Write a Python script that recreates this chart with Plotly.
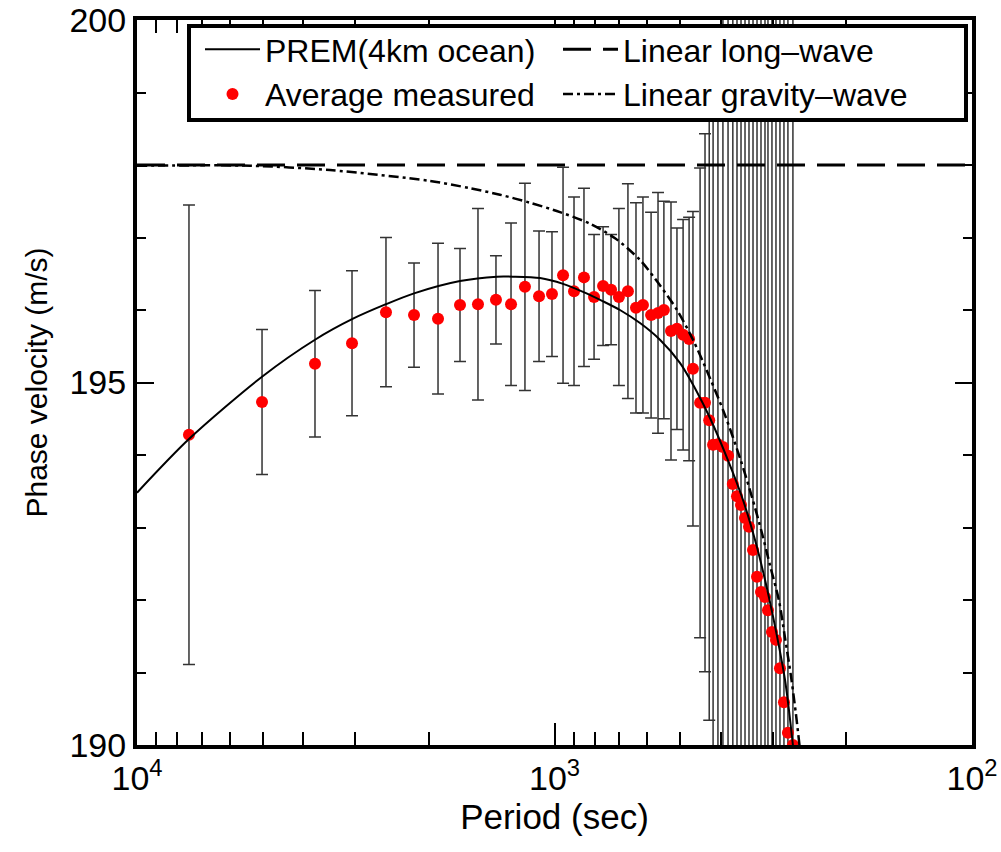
import plotly.graph_objects as go

# ---- data ----
period_avg = [7508, 5018, 3747, 3055, 2533, 2170, 1901, 1684, 1525, 1381, 1271, 1177, 1089, 1014,
              954, 898, 850, 804, 765, 732, 701, 667, 638, 614, 587, 565, 547, 526, 509, 492, 476,
              466, 448, 436, 426, 417, 406, 395, 384, 374, 365.5, 357.5, 349.7, 342.1, 334.6,
              327.3, 320.2, 313.2, 308.1, 301.4, 294.8, 288.4, 282.1, 276.0, 268.5]
vel_avg = [194.28, 194.73, 195.26, 195.54, 195.97, 195.93, 195.88, 196.07, 196.08, 196.14, 196.08,
           196.32, 196.19, 196.22, 196.48, 196.26, 196.45, 196.18, 196.33, 196.28, 196.18, 196.26,
           196.03, 196.07, 195.93, 195.96, 196.00, 195.71, 195.74, 195.66, 195.60, 195.19, 194.72,
           194.72, 194.48, 194.14, 194.15, 194.11, 193.99, 193.60, 193.43, 193.31, 193.13, 193.01,
           192.69, 192.32, 192.11, 192.04, 191.86, 191.56, 191.45, 191.06, 190.59, 190.17, 190.00]
err_avg = [3.17, 1.00, 1.01, 1.00, 1.03, 0.72, 1.04, 0.78, 1.32, 0.61, 1.12, 1.43, 0.90, 0.86,
           1.49, 1.30, 1.23, 0.86, 0.82, 0.76, 1.22, 1.48, 1.45, 1.49, 1.42, 1.66, 1.50, 1.78,
           1.39, 1.59, 1.68, 2.17, 3.24, 3.71, 4.14, 5.0, 5.5, 6.1, 6.8, 7.2, 7.9, 8.4, 9.0, 9.6,
           10.3, 11.0, 11.8, 12.5, 13.3, 14.1, 15.0, 16.0, 17.0, 18.2, 19.5]

period_prem = [10000, 7508, 5018, 3747, 3038, 2533, 2170, 1684, 1374, 1257, 1083, 954, 854.5, 765,
               697, 624, 559, 500.7, 455.8, 424.2, 386.2, 353.6, 331.0, 313.2, 296.4, 280.5,
               274.4, 268.5, 264.1]
vel_prem = [193.48, 194.22, 195.08, 195.59, 195.88, 196.08, 196.23, 196.40, 196.46, 196.46, 196.44,
            196.36, 196.25, 196.12, 196.00, 195.82, 195.59, 195.27, 194.87, 194.51, 193.96, 193.38,
            192.83, 192.28, 191.64, 190.90, 190.48, 190.00, 189.66]

period_grav = [10000, 5362, 3449, 1987, 1594, 1351, 1145, 970, 822, 716, 624, 559, 508.8, 465.9,
               424.2, 390.5, 359.6, 336.5, 318.4, 304.7, 289.9, 280.5, 271.4, 264.1, 258.2, 255.4]
vel_grav = [197.99, 197.99, 197.93, 197.78, 197.68, 197.59, 197.48, 197.35, 197.19, 196.99, 196.69,
            196.34, 196.00, 195.59, 195.06, 194.55, 193.96, 193.42, 192.92, 192.48, 191.99, 191.48,
            190.95, 190.43, 189.93, 189.66]

period_long = [10000, 100]
vel_long = [198.0, 198.0]

x_tickvals = [10000, 1000, 100]
x_ticktext = ["10<sup>4</sup>", "10<sup>3</sup>", "10<sup>2</sup>"]
x_minor = [9000, 8000, 7000, 6000, 5000, 4000, 3000, 2000, 900, 800, 700, 600, 500, 400, 300, 200]

FONT = "Liberation Sans, Arial, Helvetica, sans-serif"

fig = go.Figure()

fig.add_trace(go.Scatter(
    x=period_avg, y=vel_avg, mode="markers", name="Average measured",
    marker=dict(color="#ff0000", size=12),
    error_y=dict(type="data", array=err_avg, visible=True, color="#333333",
                 thickness=1.5, width=6),
    legendrank=3))

fig.add_trace(go.Scatter(
    x=period_prem, y=vel_prem, mode="lines", name="PREM(4km ocean)",
    line=dict(color="black", width=2, shape="spline", smoothing=0.8), legendrank=1))

fig.add_trace(go.Scatter(
    x=period_long, y=vel_long, mode="lines", name="Linear long\u2013wave",
    line=dict(color="black", width=3, dash="28px,12px"), legendrank=2))

fig.add_trace(go.Scatter(
    x=period_grav, y=vel_grav, mode="lines", name="Linear gravity\u2013wave",
    line=dict(color="black", width=2.5, dash="10px,4px,3px,4px", shape="spline", smoothing=0.8),
    legendrank=4))

# plot area: x 137..972, y 20..745 (px)
def px_x(p):
    return (p - 137) / 835.0

def px_y(p):
    return 1 - (p - 20) / 725.0

fig.update_layout(
    width=1001, height=852,
    margin=dict(l=137, r=29, t=20, b=107, autoexpand=False),
    paper_bgcolor="white", plot_bgcolor="white",
    font=dict(family=FONT, size=33, color="black"),
    showlegend=True,
    legend=dict(orientation="h", x=px_x(200), xanchor="left", y=px_y(22), yanchor="top",
                bgcolor="rgba(0,0,0,0)", borderwidth=0,
                entrywidth=288, entrywidthmode="pixels", itemwidth=55,
                font=dict(family=FONT, size=32, color="black"),
                traceorder="normal", tracegroupgap=0),
    shapes=[dict(type="rect", xref="paper", yref="paper",
                 x0=px_x(189), x1=px_x(966), y0=px_y(120), y1=px_y(26),
                 fillcolor="white", line=dict(color="black", width=4), layer="above")],
    xaxis=dict(type="log", range=[4, 2], tickvals=x_tickvals, ticktext=x_ticktext,
               automargin=False,
               ticks="inside", ticklen=22, tickwidth=2, tickcolor="black",
               showline=True, linewidth=4, linecolor="black", mirror="ticks",
               showgrid=False, zeroline=False,
               minor=dict(tickvals=x_minor, ticks="inside", ticklen=13, tickwidth=2,
                          tickcolor="black", showgrid=False),
               tickfont=dict(family=FONT, size=34),
               title=dict(text="Period (sec)", standoff=8, font=dict(family=FONT, size=35))),
    yaxis=dict(range=[190, 200], tick0=190, dtick=5, automargin=False,
               ticks="inside", ticklen=17, tickwidth=2, tickcolor="black",
               showline=True, linewidth=4, linecolor="black", mirror="ticks",
               showgrid=False, zeroline=False,
               minor=dict(dtick=1, ticks="inside", ticklen=9, tickwidth=2,
                          tickcolor="black", showgrid=False),
               tickfont=dict(family=FONT, size=34),
               title=dict(text="Phase velocity (m/s)", standoff=14,
                          font=dict(family=FONT, size=30))),
)

fig.write_html("out.html", config={"displayModeBar": False},
               post_script="document.body.style.margin='0px';")
